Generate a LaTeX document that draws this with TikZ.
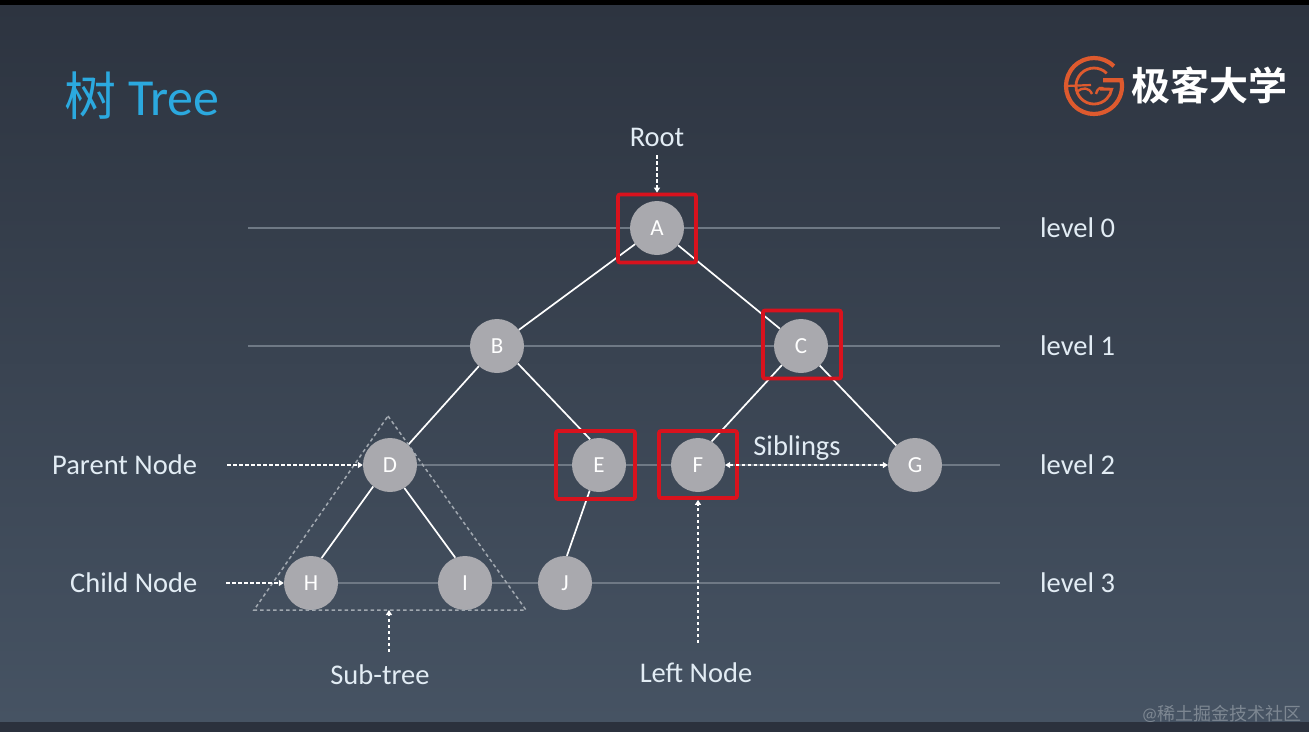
\documentclass[tikz,border=0pt]{standalone}
\usepackage{fontspec}
\setmainfont{Carlito}
\newfontfamily\cjk{Noto Sans CJK SC}
\newfontfamily\cjkb{Noto Sans CJK SC Bold}
\usetikzlibrary{arrows.meta}
\definecolor{nodegray}{HTML}{A9A9AE}
\definecolor{lvl}{HTML}{6F7985}
\definecolor{redbox}{HTML}{D9121D}
\definecolor{txt}{HTML}{E2ECF4}
\definecolor{titleblue}{HTML}{2BA9DF}
\definecolor{logoor}{HTML}{DE5A2E}
\definecolor{bgtop}{HTML}{2D3440}
\definecolor{bgbot}{HTML}{465363}
\tikzset{
  treenode/.style={circle,fill=nodegray,minimum size=54pt,inner sep=0pt,text=white,font=\fontsize{23}{23}\selectfont},
  lab/.style={text=txt,font=\fontsize{28.5}{28.5}\selectfont,inner sep=0pt},
  levelline/.style={draw=lvl,line width=1.8pt},
  edgeline/.style={draw=white,line width=1.7pt},
  redsq/.style={draw=redbox,line width=3.8pt,rounded corners=2pt,fill=none,inner sep=0pt},
  darr/.style={draw=white,line width=1.5pt,dash pattern=on 3.5pt off 2.5pt,-{Triangle[length=5pt,width=6pt]}},
  darrb/.style={draw=white,line width=1.5pt,dash pattern=on 3.5pt off 2.5pt,{Triangle[length=5pt,width=6pt]}-{Triangle[length=5pt,width=6pt]}},
  tridash/.style={draw=white!50!bgbot,line width=1.5pt,dash pattern=on 3.5pt off 3pt},
  logoline/.style={draw=logoor,line width=4.2pt},
}
\begin{document}
\begin{tikzpicture}[x=1pt,y=-1pt]
\useasboundingbox (0,0) rectangle (1309,732);
% background
\shade[top color=bgtop,bottom color=bgbot] (0,5) rectangle (1309,722);
\fill[black] (0,0) rectangle (1309,5);
\fill[black!5!bgtop] (0,722) rectangle (1309,732);
% title
\node[anchor=base west,inner sep=0pt,text=titleblue] (title) at (64,115) {\fontsize{52}{52}\selectfont{\cjk 树}\hspace{12pt}Tree};
% logo
\begin{scope}[shift={(1094,86)}]
  \draw[logoline] (19.8,-19.8) arc[start angle=-45,end angle=-372,radius=28] -- (9,-5.8);
  \draw[logoline,line width=2.8pt] (12.7,-12.7) arc[start angle=-45,end angle=-350,radius=18] -- (6,3.1);
  \draw[logoor,line width=2.2pt] (-28,0) -- (-3,-1);
  \draw[logoor,line width=2.4pt] (-17,6) .. controls (-12,1) and (-5,1) .. (-2,8);
  \draw[logoor,line width=2.4pt] (2,8) .. controls (4,1) and (7,1) .. (10,3);
\end{scope}
\node[anchor=base west,inner sep=0pt,text=white] (brand) at (1131,100) {\fontsize{39}{39}\selectfont\cjkb 极客大学};
% level lines
\coordinate (l0a) at (248,228); \coordinate (l0b) at (1000,228);
\coordinate (l1a) at (248,346); \coordinate (l1b) at (1000,346);
\coordinate (l2a) at (390,465); \coordinate (l2b) at (1000,465);
\coordinate (l3a) at (311,583); \coordinate (l3b) at (1000,583);
\draw[levelline] (l0a)--(l0b);
\draw[levelline] (l1a)--(l1b);
\draw[levelline] (l2a)--(l2b);
\draw[levelline] (l3a)--(l3b);
% tree nodes
\node[treenode] (A) at (657,228) {A};
\node[treenode] (B) at (497,346) {B};
\node[treenode] (C) at (801,346) {C};
\node[treenode] (D) at (390,465) {D};
\node[treenode] (E) at (599,465) {E};
\node[treenode] (F) at (698,465) {F};
\node[treenode] (G) at (915,465) {G};
\node[treenode] (H) at (311,583) {H};
\node[treenode] (I) at (465,583) {I};
\node[treenode] (J) at (565,583) {J};
% edges
\draw[edgeline] (A)--(B);
\draw[edgeline] (A)--(C);
\draw[edgeline] (B)--(D);
\draw[edgeline] (B.320)--(E.109);
\draw[edgeline] (C.225)--(F.60);
\draw[edgeline] (C)--(G);
\draw[edgeline] (D.232)--(H.67);
\draw[edgeline] (D.302)--(I.111);
\draw[edgeline] (E.250)--(J.86);
% red boxes
\node[redsq,minimum width=78pt,minimum height=68pt] (rA) at (657,228.5) {};
\node[redsq,minimum width=78pt,minimum height=68pt] (rC) at (802,344.5) {};
\node[redsq,minimum width=79pt,minimum height=68pt] (rE) at (595.5,465) {};
\node[redsq,minimum width=78pt,minimum height=67pt] (rF) at (698,464.5) {};
% sub-tree triangle
\coordinate (t1) at (388,416); \coordinate (t2) at (526,610); \coordinate (t3) at (254,610);
\coordinate (t4) at (389,610);
\draw[tridash] (t1)--(t2)--(t3)--cycle;
% labels
\node[lab,anchor=base] (root) at (657,146) {Root};
\node[lab,anchor=base west] (l0) at (1040,237) {level 0};
\node[lab,anchor=base west] (l1) at (1040,355) {level 1};
\node[lab,anchor=base west] (l2) at (1040,474) {level 2};
\node[lab,anchor=base west] (l3) at (1040,592) {level 3};
\node[lab,anchor=base west] (parent) at (52,474) {Parent Node};
\node[lab,anchor=base west] (child) at (70,592) {Child Node};
\node[lab,anchor=base] (subtree) at (380,684) {Sub-tree};
\node[lab,anchor=base] (leftn) at (696,682) {Left Node};
\node[lab,anchor=base] (sib) at (797,455) {Siblings};
% dashed arrows
\coordinate (rootS) at (657,155);
\coordinate (parS) at (227,465); \coordinate (chS) at (226,583);
\coordinate (subS) at (389,652); \coordinate (leftS) at (698,643);
\draw[darr] (rootS)--(rA.north -| rootS);
\draw[darr] (parS)--(D.west);
\draw[darr] (chS)--(H.west);
\draw[darr] (subS)--(t4);
\draw[darr] (leftS)--(rF.south);
\draw[darrb] (F.east)--(G.west);
% watermark
\node[anchor=base east,inner sep=0pt,text=white!30!bgbot] (wm) at (1302,720) {\fontsize{18}{18}\selectfont @{\cjk 稀土掘金技术社区}};
\end{tikzpicture}
\end{document}
